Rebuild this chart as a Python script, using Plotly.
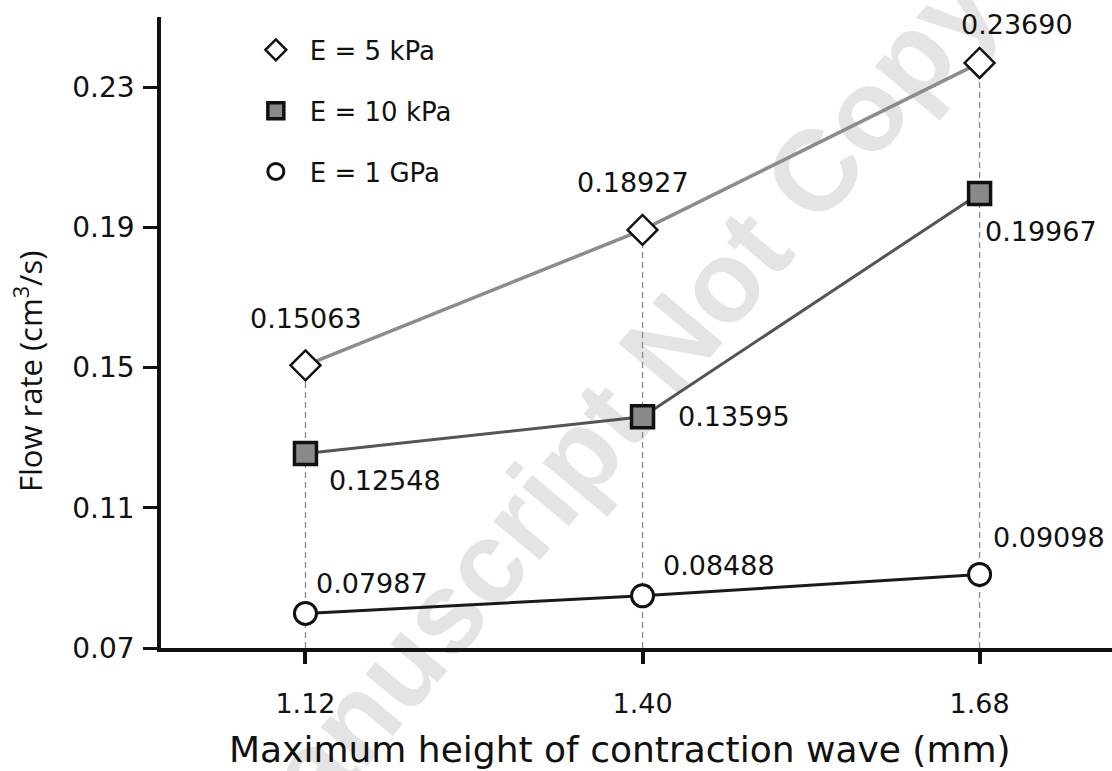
import plotly.graph_objects as go

# Maximum height of contraction wave (mm)
wave_height = [1.12, 1.40, 1.68]

# Flow rate (cm^3/s) for each wall stiffness
flow_5kpa = [0.15063, 0.18927, 0.23690]
flow_10kpa = [0.12548, 0.13595, 0.19967]
flow_1gpa = [0.07987, 0.08488, 0.09098]

series_names = ["E = 5 kPa", "E = 10 kPa", "E = 1 GPa"]
y_ticks = [0.07, 0.11, 0.15, 0.19, 0.23]

FONT = "DejaVu Sans"
INK = "#111111"

styles = [
    dict(line=dict(color="#8c8c8c", width=3.5),
         marker=dict(symbol="diamond", size=23, color="white",
                     line=dict(color=INK, width=2.5))),
    dict(line=dict(color="#555555", width=3),
         marker=dict(symbol="square", size=22, color="#8a8a8a",
                     line=dict(color=INK, width=3.5))),
    dict(line=dict(color="#1a1a1a", width=3),
         marker=dict(symbol="circle", size=22, color="white",
                     line=dict(color=INK, width=3))),
]

# pixel offsets of each value label from its marker (x right, y up)
label_offsets = [
    [(1, 47), (-10, 47), (37, 38)],
    [(80, -27), (91, 0), (61, -38)],
    [(67, 30), (76, 30), (69, 37)],
]

all_series = [flow_5kpa, flow_10kpa, flow_1gpa]
y_min = y_ticks[0]

fig = go.Figure()

# dashed guides from the axis up to the highest point at each wave height
for i, x in enumerate(wave_height):
    top = max(s[i] for s in all_series)
    fig.add_trace(go.Scatter(
        x=[x, x], y=[y_min, top], mode="lines",
        line=dict(color="#8a8a8a", width=1.3, dash="6px,4px"),
        showlegend=False, hoverinfo="skip"))

for name, vals, st in zip(series_names, all_series, styles):
    fig.add_trace(go.Scatter(
        x=wave_height, y=vals, mode="lines+markers", name=name,
        line=st["line"], marker=st["marker"], showlegend=False))

# legend entries (marker only)
for k, (name, st) in enumerate(zip(series_names, styles)):
    fig.add_trace(go.Scatter(
        x=[None], y=[None], mode="markers", name=name,
        marker=st["marker"], legendgroup=f"g{k}", showlegend=True))

annotations = []
for vals, offs in zip(all_series, label_offsets):
    for x, v, (dx, dy) in zip(wave_height, vals, offs):
        annotations.append(dict(
            x=x, y=v, xref="x", yref="y", text=f"{v:.5f}",
            showarrow=False, xshift=dx, yshift=dy,
            font=dict(family=FONT, size=27, color=INK)))

# axis titles
annotations.append(dict(
    text="Maximum height of contraction wave (mm)",
    xref="paper", yref="paper", x=(620 - 161) / 951, y=0,
    xanchor="center", yanchor="middle", yshift=-101, showarrow=False,
    font=dict(family=FONT, size=36, color=INK)))
annotations.append(dict(
    text="Flow rate (cm<sup>3</sup>/s)",
    xref="paper", yref="paper", x=0, y=(648 - 372) / 631,
    xanchor="center", yanchor="middle", xshift=-133, textangle=-90,
    showarrow=False,
    font=dict(family="Open Sans", size=31, color=INK)))

fig.update_layout(
    width=1112, height=771,
    margin=dict(l=161, r=0, t=17, b=123),
    paper_bgcolor="white", plot_bgcolor="white",
    annotations=annotations,
    showlegend=True,
    legend=dict(x=0.085, y=0.985, xanchor="left", yanchor="top",
                traceorder="grouped", tracegroupgap=24, itemwidth=58,
                bgcolor="rgba(0,0,0,0)",
                font=dict(family=FONT, size=26, color=INK)),
    font=dict(family=FONT, color=INK),
)

fig.add_shape(
    type="rect", xref="paper", yref="paper",
    x0=0.372, x1=0.392, y0=0.225, y1=0.245,
    line=dict(width=0), fillcolor="rgba(0,0,0,0)", layer="below",
    label=dict(text="Accepted Manuscript Not Copyedited", textangle=-50,
               textposition="middle center",
               font=dict(family="Liberation Sans", size=115,
                         color="#e4e4e4", weight="bold")))

fig.update_xaxes(
    range=[1.0, 1.79], tickvals=wave_height,
    ticktext=[f"{v:.2f}" for v in wave_height],
    showline=True, linecolor=INK, linewidth=3.5,
    ticks="outside", ticklen=12, tickwidth=4, tickcolor=INK,
    ticklabelstandoff=17,
    showgrid=False, zeroline=False,
    tickfont=dict(family=FONT, size=27, color=INK))

fig.update_yaxes(
    range=[0.07, 0.25], tickvals=y_ticks, tickformat=".2f",
    showline=True, linecolor=INK, linewidth=3.5,
    ticks="outside", ticklen=14, tickwidth=3, tickcolor=INK,
    ticklabelstandoff=3,
    showgrid=False, zeroline=False,
    tickfont=dict(family=FONT, size=28, color=INK))

fig.write_html("out.html")
